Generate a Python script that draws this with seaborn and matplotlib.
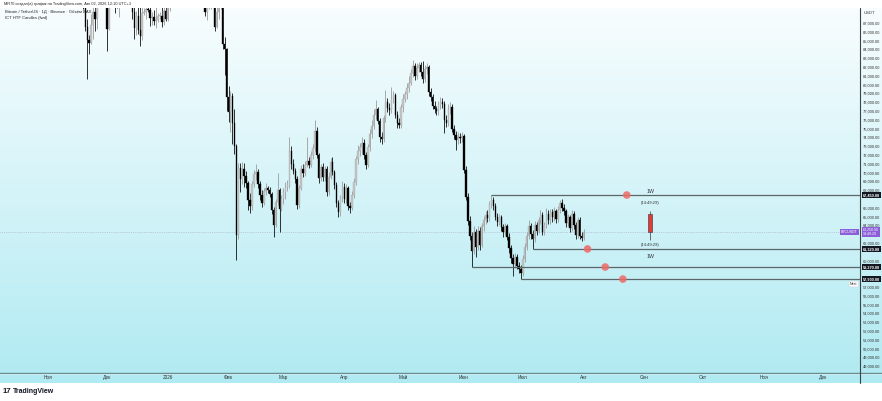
import numpy as np
import pandas as pd
import matplotlib
matplotlib.use("Agg")
import matplotlib.pyplot as plt
import matplotlib.dates as mdates
import matplotlib.transforms as mtransforms
from matplotlib.lines import Line2D
import seaborn as sns

# daily BTCUSDT closes (thousands of USDT) and wick sizes above / below the body
first_open = 124.7

oct_close = [121.5, 123.3, 121.7, 113.2, 110.6, 115.2, 115.3, 113.1, 110.8, 108.2, 106.5, 107.2, 108.7,
             110.6, 108.5, 107.6, 110.1, 111.0, 111.7, 114.6, 114.1, 112.9, 110.0, 108.3, 109.6]
oct_up = [3.0, 2.7, 1.4, 8.9, 2.7, 0.6, 0.9, 2.1, 2.6, 3.1, 2.0, 0.5, 0.4, 1.2, 3.5, 1.8, 0.4, 1.0, 0.4,
          0.2, 1.9, 3.1, 1.2, 1.7, 1.8]
oct_dn = [0.4, 0.5, 1.0, 8.7, 1.2, 0.2, 1.9, 2.0, 0.7, 0.3, 2.5, 0.7, 0.3, 0.9, 1.2, 0.1, 0.5, 1.0, 0.6,
          0.3, 0.4, 0.6, 1.5, 2.0, 0.2]

nov_close = [110.1, 110.6, 106.6, 101.5, 103.9, 101.3, 103.4, 102.3, 104.7, 106.0, 103.0, 101.6, 99.7,
             94.6, 95.6, 94.3, 92.2, 92.9, 91.5, 86.6, 85.1, 84.7, 86.8, 88.3, 87.4, 90.5, 91.3, 90.9,
             90.8, 90.4]
nov_up = [0.3, 0.7, 4.1, 5.1, 0.9, 2.6, 0.6, 1.1, 0.8, 0.5, 3.6, 3.8, 2.2, 4.8, 0.8, 1.7, 3.2, 0.9, 1.4,
          1.5, 0.9, 0.5, 1.2, 0.7, 0.5, 0.1, 0.9, 1.8, 0.5, 1.0]
nov_dn = [0.4, 0.5, 0.6, 2.7, 2.8, 0.4, 2.0, 0.9, 0.5, 1.2, 0.4, 1.0, 1.1, 0.6, 1.2, 1.4, 0.8, 3.0, 2.9,
          0.5, 4.5, 1.2, 0.1, 1.6, 1.3, 1.1, 0.4, 0.7, 0.5, 0.4]

dec_close = [86.3, 91.3, 93.4, 92.1, 89.4, 89.3, 90.4, 90.6, 92.7, 92.0, 92.5, 90.3, 90.3, 88.2, 86.4,
             87.8, 86.2, 85.5, 88.1, 88.3, 88.6, 88.5, 87.6, 87.7, 87.2, 87.3, 87.8, 87.8, 87.1, 88.4, 87.5]
dec_up = [0.0, 0.8, 0.9, 1.0, 0.3, 0.7, 1.2, 1.6, 1.7, 1.4, 0.3, 0.3, 0.4, 0.3, 1.8, 0.6, 2.2, 3.0, 0.9,
          0.4, 0.4, 1.5, 0.5, 0.5, 0.8, 2.0, 0.3, 0.4, 2.2, 1.0, 0.7]
dec_dn = [2.5, 0.1, 0.3, 1.0, 1.3, 0.6, 1.6, 0.5, 1.4, 1.0, 2.7, 0.8, 0.4, 0.7, 1.2, 0.8, 0.4, 1.1, 0.4,
          0.2, 0.8, 0.3, 0.9, 0.8, 0.4, 0.8, 0.2, 0.4, 0.5, 0.3, 0.3]

jan_close = [88.7, 89.9, 90.6, 91.5, 93.9, 93.7, 91.3, 91.0, 90.5, 90.4, 90.8, 91.2, 95.3, 97.0, 95.6,
             95.5, 95.1, 93.6, 92.6, 88.3, 89.4, 89.5, 89.5, 89.2, 86.6, 88.3, 89.2, 89.2, 84.6, 84.1, 78.6]
jan_up = [0.2, 1.0, 0.3, 0.4, 0.4, 0.9, 1.0, 0.5, 1.3, 0.4, 0.4, 1.3, 1.2, 0.9, 1.6, 0.5, 0.4, 0.1, 0.2,
          0.5, 1.0, 0.6, 1.6, 0.4, 0.3, 0.6, 0.3, 0.9, 0.2, 0.8, 0.1]
jan_dn = [0.3, 0.3, 0.6, 0.5, 0.4, 1.6, 1.1, 1.2, 0.9, 0.4, 0.3, 0.9, 0.4, 0.6, 0.9, 0.8, 0.3, 1.3, 0.6,
          0.5, 1.0, 0.8, 0.9, 0.4, 0.5, 0.2, 0.9, 0.6, 0.6, 3.0, 1.6]

feb_close = [76.9, 78.7, 75.6, 73.0, 62.9, 70.5, 69.3, 70.4, 69.6, 68.8, 66.9, 66.2, 68.7, 69.8, 70.1,
             68.7, 67.5, 66.6, 67.9, 68.2, 68.0, 67.6, 65.8, 64.0, 66.7, 68.0, 65.9, 67.0]
feb_up = [1.2, 0.6, 0.4, 1.6, 0.3, 0.6, 0.6, 0.8, 0.7, 0.6, 0.2, 0.8, 0.3, 0.5, 0.9, 0.3, 0.3, 0.5, 0.4,
          0.6, 0.3, 0.4, 0.2, 0.3, 0.3, 2.0, 0.3, 0.5]
feb_dn = [1.2, 2.3, 2.3, 0.9, 2.8, 0.5, 1.5, 0.6, 1.2, 0.6, 1.1, 0.8, 0.4, 0.3, 0.6, 0.5, 0.6, 0.5, 0.3,
          0.5, 0.3, 0.4, 0.5, 1.3, 0.2, 0.4, 2.7, 0.3]

mar_close = [67.8, 68.4, 68.6, 72.5, 71.0, 70.2, 69.3, 66.3, 68.2, 70.4, 70.0, 70.9, 71.3, 70.9, 72.0,
             72.8, 74.7, 72.0, 69.4, 70.6, 69.5, 70.4, 67.8, 69.5, 71.2, 70.1, 68.6, 66.5, 65.5, 67.2, 68.4]
mar_up = [0.4, 0.5, 0.6, 1.5, 0.5, 0.6, 0.3, 0.3, 0.4, 0.5, 0.6, 0.4, 2.7, 0.5, 0.4, 0.5, 1.3, 0.5, 0.2,
          0.4, 0.5, 0.4, 0.3, 0.6, 0.5, 0.6, 0.2, 0.3, 0.4, 0.3, 0.6]
mar_dn = [0.6, 0.8, 0.5, 0.3, 0.6, 0.4, 0.5, 0.4, 0.3, 0.2, 0.5, 0.4, 0.3, 0.4, 0.3, 0.4, 0.3, 0.3, 0.6,
          0.3, 0.4, 0.5, 0.5, 0.3, 0.2, 0.4, 0.5, 0.4, 0.5, 0.4, 0.5]

apr_close = [67.0, 68.2, 66.2, 66.0, 67.5, 68.9, 71.5, 72.5, 72.9, 73.4, 72.0, 70.9, 72.9, 74.4, 75.3,
             76.6, 77.2, 75.9, 74.0, 73.8, 76.2, 78.0, 77.3, 77.1, 78.4, 78.8, 76.6, 75.6, 75.4, 77.4]
apr_up = [0.4, 0.5, 0.3, 0.5, 0.4, 0.5, 0.4, 0.6, 0.5, 0.6, 0.4, 0.3, 0.4, 0.5, 0.7, 0.6, 1.0, 0.3, 0.3,
          0.6, 0.4, 1.4, 0.5, 0.6, 1.3, 0.5, 0.3, 0.4, 0.6, 0.4]
apr_dn = [0.5, 0.4, 0.5, 0.6, 0.3, 0.4, 0.3, 0.5, 0.6, 0.8, 0.4, 0.5, 0.3, 0.4, 0.5, 0.4, 0.5, 0.4, 0.5,
          0.5, 0.3, 0.4, 0.4, 0.5, 0.3, 0.5, 0.4, 0.5, 0.3, 0.3]

may_close = [78.4, 78.9, 79.6, 80.2, 81.3, 82.1, 81.0, 81.9, 82.2, 81.4, 80.6, 81.8, 82.0, 79.2, 78.6,
             77.6, 77.2, 77.0, 77.7, 78.0, 77.8, 76.0, 75.6, 77.2, 77.5, 75.0, 74.3, 73.7, 74.1, 73.9, 74.2]
may_up = [0.5, 0.4, 0.6, 0.8, 0.5, 0.7, 0.3, 0.5, 0.4, 0.4, 1.3, 0.4, 0.5, 0.2, 0.4, 0.3, 0.5, 0.4, 0.4,
          0.6, 0.5, 0.3, 0.6, 0.6, 0.5, 0.3, 0.4, 0.4, 0.5, 0.4, 0.4]
may_dn = [0.5, 0.4, 0.5, 0.4, 0.3, 0.4, 0.5, 0.4, 0.5, 0.4, 0.4, 0.3, 0.6, 0.5, 0.5, 0.4, 0.4, 0.5, 0.4,
          0.5, 0.5, 1.5, 0.4, 0.3, 0.5, 0.4, 0.5, 1.1, 0.4, 0.5, 0.4]

jun_close = [70.3, 67.2, 64.5, 62.8, 61.1, 63.2, 61.6, 63.4, 61.8, 63.9, 64.6, 65.2, 64.8, 66.4, 66.9,
             66.2, 65.0, 64.4, 64.9, 63.8, 63.2, 63.9, 62.7, 61.4, 60.3, 59.6, 60.4, 59.4, 59.0, 58.6]
jun_up = [0.2, 0.4, 0.5, 0.6, 0.5, 0.7, 0.4, 0.5, 0.4, 0.4, 0.5, 0.4, 0.5, 0.4, 0.55, 0.3, 0.3, 0.4, 0.4,
          0.3, 0.4, 0.4, 0.3, 0.4, 0.4, 0.4, 0.5, 0.4, 0.4, 0.5]
jun_dn = [0.4, 0.3, 0.4, 0.5, 1.83, 0.4, 1.2, 0.4, 0.6, 0.3, 0.5, 0.4, 0.4, 0.3, 0.4, 0.4, 0.4, 0.5, 0.4,
          0.4, 0.5, 0.3, 0.4, 0.5, 0.6, 1.4, 0.4, 0.3, 0.4, 0.7]

jul_close = [60.2, 61.5, 62.8, 63.9, 63.0, 62.4, 64.0, 63.4, 64.6, 65.2, 63.3, 64.0, 65.3, 64.6, 65.5,
             64.9, 65.6, 64.7, 65.8, 66.5, 66.0, 65.6, 64.3, 64.9, 63.7, 65.3, 64.1, 62.9, 64.6, 62.8, 62.6]
jul_up = [0.4, 0.5, 0.4, 0.7, 0.4, 0.5, 0.5, 0.4, 0.4, 0.5, 0.3, 0.4, 0.7, 0.4, 0.4, 0.4, 0.5, 0.3, 0.4,
          0.4, 0.5, 0.4, 0.3, 0.4, 0.3, 0.4, 0.3, 0.3, 0.4, 0.3, 0.4]
jul_dn = [0.3, 0.4, 0.3, 0.4, 0.5, 1.08, 0.3, 0.5, 0.3, 0.4, 0.4, 0.4, 0.3, 0.4, 0.4, 0.5, 0.4, 0.4, 0.3,
          0.4, 0.4, 0.4, 0.5, 0.4, 0.4, 0.3, 0.5, 0.4, 0.3, 0.4, 0.4]

aug_close = [63.25]
aug_up = [0.3]
aug_dn = [0.3]

# ICT HTF levels (previous weekly highs / lows)
level_prices = [67.45, 61.32, 59.27, 57.90]
level_starts = ['2026-06-15', '2026-07-06', '2026-06-05', '2026-06-30']
dot_dates = ['2026-08-23', '2026-08-03', '2026-08-12', '2026-08-21']

# current weekly candle drawn ahead of price
htf_date = '2026-09-04'
htf_open, htf_high, htf_low, htf_close = 65.3, 65.6, 62.3, 63.25
htf_timer = '(14:49:29)'

last_price = 63.25
month_ticks = ['2025-11-01', '2025-12-01', '2026-01-01', '2026-02-01', '2026-03-01', '2026-04-01',
               '2026-05-01', '2026-06-01', '2026-07-01', '2026-08-01', '2026-09-01', '2026-10-01',
               '2026-11-01', '2026-12-01']
month_labels = ['Ноя', 'Дек', '2026', 'Фев', 'Мар', 'Апр', 'Май', 'Июн', 'Июл', 'Авг', 'Сен', 'Окт',
                'Ноя', 'Дек']
hidden_ticks = [58, 59, 61, 63, 67]

closes = (oct_close + nov_close + dec_close + jan_close + feb_close + mar_close + apr_close +
          may_close + jun_close + jul_close + aug_close)
ups = oct_up + nov_up + dec_up + jan_up + feb_up + mar_up + apr_up + may_up + jun_up + jul_up + aug_up
dns = oct_dn + nov_dn + dec_dn + jan_dn + feb_dn + mar_dn + apr_dn + may_dn + jun_dn + jul_dn + aug_dn

df = pd.DataFrame({'date': pd.date_range('2025-10-07', periods=len(closes), freq='D'),
                   'close': closes})
df['open'] = [first_open] + closes[:-1]
df['high'] = df[['open', 'close']].max(axis=1) + np.array(ups)
df['low'] = df[['open', 'close']].min(axis=1) - np.array(dns)
df['x'] = mdates.date2num(df['date'])
df['is_up'] = df['close'] >= df['open']


sns.set_theme(style="white")
plt.rcParams['font.family'] = ['Liberation Sans', 'DejaVu Sans']

W, H = 882, 401
fig = plt.figure(figsize=(W / 100, H / 100), dpi=100)
fig.patch.set_facecolor('white')


def fx(px):
    return px / W


def fy(py):
    return 1 - py / H


# background gradient
bg = fig.add_axes([0, fy(383), 1, (383 - 8) / H])
top_c = np.array([248, 253, 254]) / 255
bot_c = np.array([176, 234, 242]) / 255
t = np.linspace(0, 1, 200)[:, None]
grad = (top_c[None, :] * (1 - t) + bot_c[None, :] * t)[:, None, :]
bg.imshow(grad, aspect='auto', extent=[0, 1, 0, 1])
bg.axis('off')

ax = fig.add_axes([0, fy(372), fx(860), (372 - 8) / H])
ax.set_facecolor('none')
for s in ax.spines.values():
    s.set_visible(False)

nov1 = mdates.date2num(pd.Timestamp('2025-11-01'))
px_day = 1.962
ax.set_xlim(nov1 - 48 / px_day, nov1 + (860 - 48) / px_day)
ax.set_ylim(87 - (372 - 23) / 8.8, 87 + (23 - 8) / 8.8)

# current price line
ax.axhline(last_price, color='#a9a4c9', lw=0.5, ls=':', zorder=1)

# candles
up_df = df[df['is_up']]
dn_df = df[~df['is_up']]
ax.vlines(up_df['x'], up_df['low'], up_df['high'], color='#9c9c9c', lw=0.6, zorder=2)
ax.vlines(dn_df['x'], dn_df['low'], dn_df['high'], color='#111111', lw=0.6, zorder=2)
ax.bar(up_df['x'], (up_df['close'] - up_df['open']).clip(lower=0.08), bottom=up_df['open'],
       width=0.72, color='#c4c4c4', edgecolor='#a8a8a8', lw=0.25, zorder=3)
ax.bar(dn_df['x'], (dn_df['close'] - dn_df['open']).clip(upper=-0.08), bottom=dn_df['open'],
       width=0.72, color='#000000', edgecolor='#000000', lw=0.25, zorder=3)

# HTF levels
xmax = ax.get_xlim()[1]
for lvl, st in zip(level_prices, level_starts):
    ax.hlines(lvl, mdates.date2num(pd.Timestamp(st)), xmax, color='#5c6668', lw=0.9, zorder=4)

dots = pd.DataFrame({'x': mdates.date2num(pd.to_datetime(dot_dates)), 'y': level_prices})
sns.scatterplot(data=dots, x='x', y='y', ax=ax, color='#ee6a66', s=30, alpha=0.85,
                edgecolor='none', zorder=5, legend=False)
ax.set_xlabel('')
ax.set_ylabel('')

hx = mdates.date2num(pd.Timestamp(htf_date))
ax.vlines(hx, htf_low, htf_high, color='#555555', lw=0.6, zorder=4)
ax.bar(hx, htf_close - htf_open, bottom=htf_open, width=2.0, color='#e53935',
       edgecolor='#4a4a4a', lw=0.5, zorder=5)
ax.text(hx, level_prices[0] + 0.12, '1W', ha='center', va='bottom', fontsize=3.8, color='#333333')
ax.text(hx, 87 - (203 - 23) / 8.8, htf_timer, ha='center', va='center', fontsize=3, color='#333333')
ax.text(hx, 87 - (245 - 23) / 8.8, htf_timer, ha='center', va='center', fontsize=3, color='#333333')
ax.text(hx, 87 - (256 - 23) / 8.8, '1W', ha='center', va='center', fontsize=3.8, color='#333333')

# axes ticks
ax.set_xticks(mdates.date2num(pd.to_datetime(month_ticks)))
ax.set_xticklabels(month_labels)
ax.tick_params(axis='x', length=0, pad=2.2, labelsize=3.4, colors='#333333')
yt = [v for v in range(48, 88) if v not in hidden_ticks]
ax.yaxis.tick_right()
ax.set_yticks(yt)
ax.set_yticklabels([f"{v * 1000:,.2f}" for v in yt])
ax.tick_params(axis='y', length=0, pad=2.2, labelsize=2.9, colors='#333333')
ax.grid(False)

# price scale labels
tr = mtransforms.blended_transform_factory(ax.transAxes, ax.transData)
for lvl in level_prices:
    ax.text(1.0035, lvl, f"{lvl * 1000:,.2f}", transform=tr, ha='left', va='center', fontsize=2.8,
            color='white', fontweight='bold',
            bbox=dict(boxstyle='square,pad=0.35', fc='#131722', ec='none'))
ax.text(1.0035, last_price, f"{last_price * 1000:,.2f}\n14:49:29", transform=tr, ha='left',
        va='center', fontsize=2.6, color='white', linespacing=1.0,
        bbox=dict(boxstyle='square,pad=0.25', fc='#8c5fd8', ec='none'))
ax.text(0.997, last_price, 'BTCUSDT', transform=tr, ha='right', va='center', fontsize=2.6,
        color='white', bbox=dict(boxstyle='square,pad=0.3', fc='#8c5fd8', ec='none'))
ax.text(0.997, 87 - (284 - 23) / 8.8, 'Next', transform=tr, ha='right', va='center', fontsize=2.6,
        color='#333333', bbox=dict(boxstyle='round,pad=0.25', fc='white', ec='#cccccc', lw=0.3))

# frame lines
fig.add_artist(Line2D([0, 1], [fy(372.5), fy(372.5)], color='#6d8c91', lw=1.0))
fig.add_artist(Line2D([0, 1], [fy(374), fy(374)], color='#d6f3f6', lw=0.5))
fig.add_artist(Line2D([fx(860), fx(860)], [fy(8), fy(383)], color='#3b4548', lw=0.8))

# header texts
fig.text(fx(4), fy(4), 'MR70 создал(а) график на TradingView.com, Авг 02, 2026 12:10 UTC+3',
         fontsize=2.8, va='center', color='#222222')
fig.text(fx(5), fy(12), 'Bitcoin / TetherUS · 1Д · Binance · Объём BAX', fontsize=3.0, va='center',
         color='#222222')
fig.text(fx(5), fy(18), 'ICT HTF Candles (fwd)', fontsize=3.0, va='center', color='#222222')
fig.text(fx(864), fy(13), 'USDT', fontsize=3.0, va='center', color='#333333')

fig.text(fx(3), fy(391.5), '17', fontsize=5.6, fontweight='heavy', va='center', color='#131722')
fig.text(fx(13), fy(391.5), 'TradingView', fontsize=5.0, fontweight='bold', va='center',
         color='#131722')

fig.savefig('out.png', dpi=100)
